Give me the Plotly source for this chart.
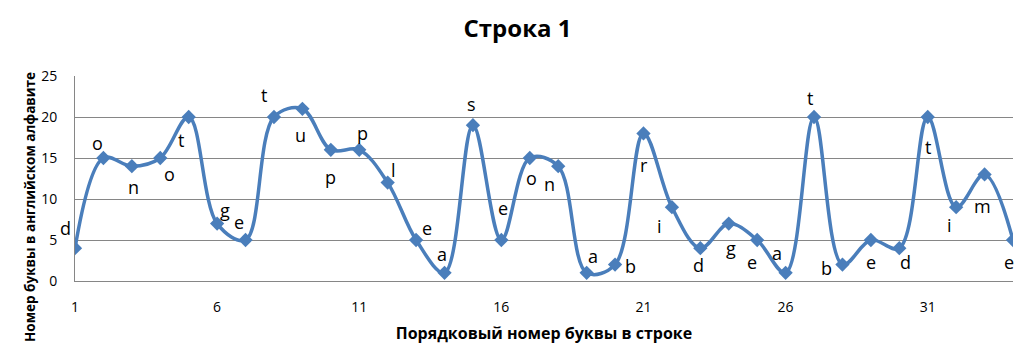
import plotly.graph_objects as go

positions = list(range(1, 35))
letters = ["d", "o", "n", "o", "t", "g", "e", "t", "u", "p", "p", "l", "e", "a", "s", "e", "o",
           "n", "a", "b", "r", "i", "d", "g", "e", "a", "t", "b", "e", "d", "t", "i", "m", "e"]
values = [4, 15, 14, 15, 20, 7, 5, 20, 21, 16, 16, 12, 5, 1, 19, 5, 15,
          14, 1, 2, 18, 9, 4, 7, 5, 1, 20, 2, 5, 4, 20, 9, 13, 5]
x_ticks = [1, 6, 11, 16, 21, 26, 31]

# label offsets in pixels relative to each point (dx right, dy down)
label_dx = [-10, -6, 2, 9, -8, 8, -7, -10, -2, 0, 3, 6, 11, -3, -1, 2, 2,
            -9, 6, 15, 1, -12, -2, 2, -5, -9, -4, -16, 0, 6, 0, -7, -2, -4]
label_dy = [-20, -15, 21, 16, 23, -14, -18, -22, 26, 27, -17, -13, -12, -19, -21, -32, 20,
            18, -17, 1, 32, 19, 17, 24, 22, -20, -19, 3, 22, 14, 30, 18, 32, 22]

blue = "#4A7EBB"
font = "Open Sans"

fig = go.Figure()
fig.add_trace(go.Scatter(
    x=positions, y=values, mode="lines+markers",
    line=dict(color=blue, width=3.5, shape="spline", smoothing=1),
    marker=dict(symbol="diamond", size=11, color=blue),
    hoverinfo="skip", showlegend=False,
))

for xv, yv, t, dx, dy in zip(positions, values, letters, label_dx, label_dy):
    fig.add_annotation(x=xv, y=yv, xref="x", yref="y", text=t, showarrow=True,
                       arrowcolor="rgba(0,0,0,0)", ax=dx, ay=dy,
                       font=dict(family=font, size=18, color="#000000"))

# y-axis title as annotation (centered lower than the plot area, like the reference)
fig.add_annotation(x=0, y=0.361, xref="paper", yref="paper", xshift=-45,
                   xanchor="center", yanchor="middle", textangle=-90, showarrow=False,
                   text="<b>Номер буквы в английском алфавите</b>",
                   font=dict(family=font, size=13.5, color="#000000"))

fig.update_layout(
    width=1035, height=360,
    margin=dict(l=75, r=22, t=76, b=79),
    paper_bgcolor="white", plot_bgcolor="white",
    title=dict(text="<b>Строка 1</b>", x=0.5, xanchor="center", y=0.92, yanchor="middle",
               font=dict(family=font, size=24, color="#000000")),
    xaxis=dict(range=[1, 34], tickvals=x_ticks, showgrid=False, zeroline=False,
               showline=True, linecolor="#868686", linewidth=1,
               tickfont=dict(family=font, size=14, color="#000000"), ticks="",
               ticklabelstandoff=13,
               title=dict(text="<b>Порядковый номер буквы в строке</b>", standoff=13,
                          font=dict(family=font, size=16, color="#000000"))),
    yaxis=dict(range=[0, 25], dtick=5, showgrid=True, gridcolor="#868686", gridwidth=1,
               zeroline=False, showline=True, linecolor="#868686", linewidth=1,
               tickfont=dict(family=font, size=14, color="#000000"), ticks="",
               ticklabelstandoff=14),
)
fig.update_xaxes(automargin=False)
fig.update_yaxes(automargin=False)

fig.write_html("out.html")
